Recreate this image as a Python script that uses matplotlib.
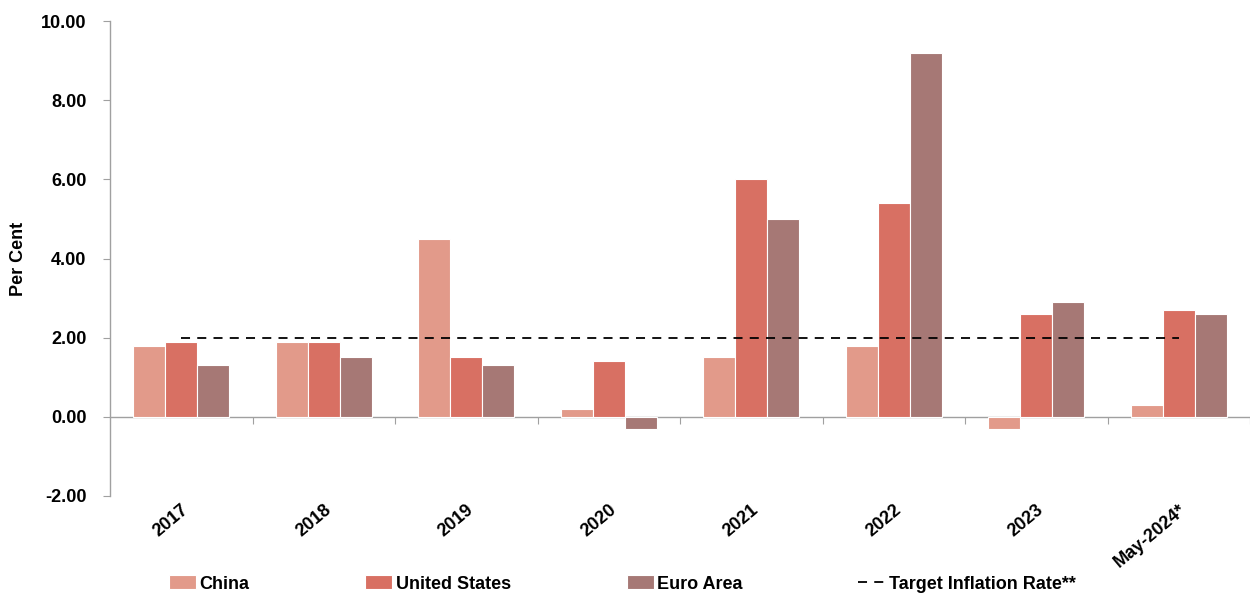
import matplotlib
matplotlib.use("Agg")
import matplotlib.pyplot as plt
import numpy as np

categories = ["2017", "2018", "2019", "2020", "2021", "2022", "2023", "May-2024*"]
china = [1.8, 1.9, 4.5, 0.2, 1.5, 1.8, -0.3, 0.3]
united_states = [1.9, 1.9, 1.5, 1.4, 6.0, 5.4, 2.6, 2.7]
euro_area = [1.3, 1.5, 1.3, -0.3, 5.0, 9.2, 2.9, 2.6]
target_rate = [2.0] * len(categories)
yticks = [-2, 0, 2, 4, 6, 8, 10]

plt.rcParams['font.family'] = ['Liberation Sans', 'DejaVu Sans']
plt.rcParams['font.weight'] = 'bold'

fig = plt.figure(figsize=(12.5, 5.94), dpi=100)
ax = fig.add_axes([0.088, 0.165, 0.912, 0.7996])

x = np.arange(len(categories))
w = 0.224
cols = ["#E29A8A", "#D87063", "#A67875"]
b1 = ax.bar(x - w, china, w, color=cols[0], edgecolor="white", linewidth=0.8, label="China", zorder=2)
b2 = ax.bar(x, united_states, w, color=cols[1], edgecolor="white", linewidth=0.8, label="United States", zorder=2)
b3 = ax.bar(x + w, euro_area, w, color=cols[2], edgecolor="white", linewidth=0.8, label="Euro Area", zorder=2)
l1, = ax.plot(x, target_rate, color="black", linestyle=(0, (5, 4)), linewidth=1.3,
              label="Target Inflation Rate**", zorder=3)

ax.set_xlim(-0.5, len(categories) - 0.5)
ax.set_ylim(-2, 10)
ax.set_yticks(yticks)
ax.set_yticklabels([f"{v:.2f}" for v in yticks], fontsize=13, fontweight='bold')
ax.tick_params(axis='y', direction='out', length=5, color='#A0A0A0', pad=12)

ax.set_xticks(x)
ax.set_xticklabels(categories, rotation=40, ha='right', rotation_mode='anchor',
                   fontsize=13, fontweight='bold')
ax.tick_params(axis='x', length=0, pad=4)

for s in ['top', 'right', 'bottom']:
    ax.spines[s].set_visible(False)
ax.spines['left'].set_color('#A0A0A0')
ax.spines['left'].set_linewidth(1.0)

sec = ax.secondary_xaxis(0, transform=ax.transData)
sec.set_xticks(x + 0.5)
sec.set_xticklabels([])
sec.tick_params(axis='x', direction='out', length=5, color='#A0A0A0')
sec.spines['bottom'].set_color('#A0A0A0')
sec.spines['bottom'].set_linewidth(1.0)

ax.set_ylabel("Per Cent", fontsize=13, fontweight='bold')
ax.yaxis.set_label_coords(-0.073, 0.5)

fig.legend([b1, b2, b3, l1], ["China", "United States", "Euro Area", "Target Inflation Rate**"],
           loc='lower left', bbox_to_anchor=(0.125, -0.019), ncol=4, frameon=False,
           fontsize=13, columnspacing=6.4, handlelength=1.5, handletextpad=0.2,
           handleheight=0.8, borderaxespad=0.3)

fig.savefig("out.png", dpi=100)
